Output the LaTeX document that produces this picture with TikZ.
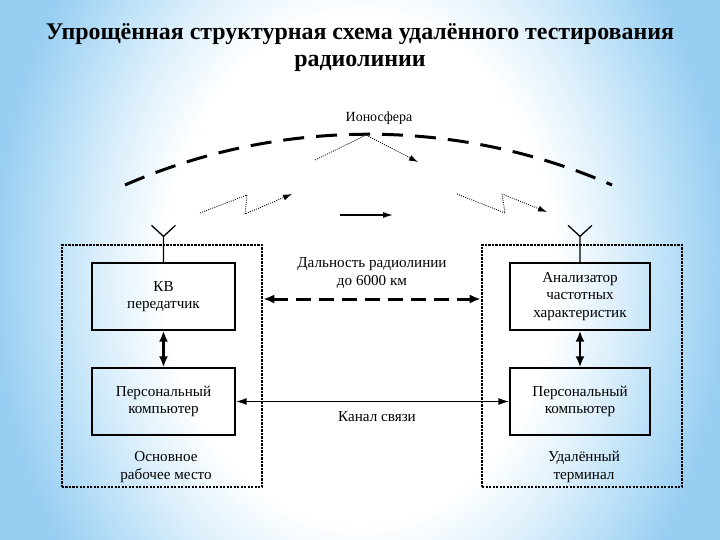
\documentclass[tikz,border=0pt]{standalone}
\usepackage{fontspec}
\setmainfont{Liberation Serif}
\usetikzlibrary{arrows.meta,calc}
\definecolor{bgpale}{RGB}{220,239,251}
\definecolor{bgblue}{RGB}{182,222,247}
\definecolor{bgdeep}{RGB}{152,206,242}
\pgfdeclareradialshading{bgshade}{\pgfpoint{0bp}{0bp}}{color(0bp)=(white);color(13.5bp)=(white);color(18bp)=(bgpale);color(22bp)=(bgblue);color(25.5bp)=(bgdeep);color(50bp)=(bgdeep)}
\begin{document}
\begin{tikzpicture}[x=1bp,y=-1bp,
  box/.style={draw, line width=1.3bp, minimum width=143bp, minimum height=67bp, inner sep=0pt, align=center, font=\fontsize{15.2}{17.5}\selectfont},
  frame/.style={draw, line width=2.6bp, dash pattern=on 2.2bp off 1.3bp, minimum width=200bp, minimum height=242bp, inner sep=0pt},
  lbl/.style={align=center, font=\fontsize{15.2}{17.5}\selectfont},
  ray/.style={line width=0.8bp, dash pattern=on 1bp off 1.2bp, -{Latex[length=9bp,width=6bp]}},
  dbl/.style={line width=2.6bp, {Latex[length=11bp,width=9bp]}-{Latex[length=11bp,width=9bp]}},
  ant/.style={line width=1.3bp}
]
\useasboundingbox (0,0) rectangle (720,540);
\begin{scope}
  \clip (0,0) rectangle (720,540);
  \shade[shading=bgshade] (0,-200) rectangle (720,740);
\end{scope}

\node[align=center, font=\bfseries\fontsize{24}{27}\selectfont] (title) at (360,48)
  {Упрощённая структурная схема удалённого тестирования\\радиолинии};

\node[font=\fontsize{14}{16}\selectfont] (iono) at (379,118) {Ионосфера};
\draw[line width=3bp, dash pattern=on 21bp off 12bp] (125,185) .. controls (280,117.3) and (457,117.3) .. (612,185);

\coordinate (pk) at (366,135);
\draw[ray] (315,160) -- (pk) -- (418,162);
\draw[ray] (200,213) -- (247,195) -- (245,214) -- (292,194);
\draw[ray] (457,194) -- (505,213) -- (502,194) -- (547,212);
\coordinate (sa) at (340,215);
\coordinate (sb) at (393,215);
\draw[line width=1.2bp, -{Latex[length=10bp,width=6bp]}] (sa) -- (sb);

\node[frame] (lf) at (162,366) {};
\node[frame] (rf) at (582,366) {};

\node[box] (kv) at (163.5,296.5) {КВ\\передатчик};
\node[box] (pc1) at (163.5,401.5) {Персональный\\компьютер};
\node[box, minimum width=140bp] (an) at (580,296.5) {Анализатор\\частотных\\характеристик};
\node[box, minimum width=140bp] (pc2) at (580,401.5) {Персональный\\компьютер};

\draw[ant] (kv.north) -- ++(0,-26) coordinate (lv) -- ++(-12,-11) (lv) -- ++(12,-11);
\draw[ant] (an.north) -- ++(0,-26) coordinate (rv) -- ++(-12,-11) (rv) -- ++(12,-11);

\draw[dbl] (kv) -- (pc1);
\draw[dbl] (an) -- (pc2);

\coordinate (dy) at (370,299);
\draw[line width=3bp, dash pattern=on 15bp off 8bp, {Latex[length=11bp,width=9bp]}-{Latex[length=11bp,width=9bp]}] (lf.east |- dy) -- (rf.west |- dy);
\node[lbl] (dist) at (372,273) {Дальность радиолинии\\до 6000 км};

\draw[line width=1.6bp, {Latex[length=11bp,width=7bp]}-{Latex[length=11bp,width=7bp]}] (pc1.east) -- (pc2.west);
\node[lbl] (ch) at (377,417) {Канал связи};

\node[lbl] (l1) at (166,467) {Основное\\рабочее место};
\node[lbl] (l2) at (584,467) {Удалённый\\терминал};
\end{tikzpicture}
\end{document}
